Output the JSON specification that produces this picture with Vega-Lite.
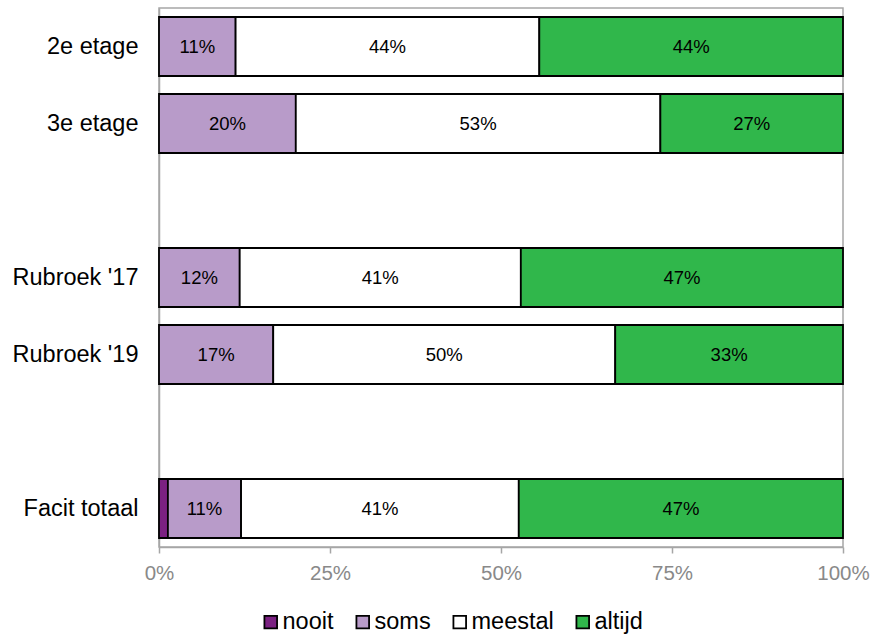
{
  "$schema": "https://vega.github.io/schema/vega-lite/v6.json",
  "autosize": "none",
  "width": 684,
  "height": 539,
  "padding": {"left": 159, "top": 8, "right": 28, "bottom": 88},
  "background": "white",
  "config": {
    "font": "Liberation Sans",
    "view": {"stroke": "#a6a6a6", "strokeWidth": 1.5}
  },
  "data": {
    "values": [
      {"groep": "2e etage", "antwoord": "soms", "rang": 2, "aandeel": 0.112},
      {"groep": "2e etage", "antwoord": "meestal", "rang": 3, "aandeel": 0.444},
      {"groep": "2e etage", "antwoord": "altijd", "rang": 4, "aandeel": 0.444},
      {"groep": "3e etage", "antwoord": "soms", "rang": 2, "aandeel": 0.2},
      {"groep": "3e etage", "antwoord": "meestal", "rang": 3, "aandeel": 0.533},
      {"groep": "3e etage", "antwoord": "altijd", "rang": 4, "aandeel": 0.267},
      {"groep": "Rubroek '17", "antwoord": "soms", "rang": 2, "aandeel": 0.118},
      {"groep": "Rubroek '17", "antwoord": "meestal", "rang": 3, "aandeel": 0.411},
      {"groep": "Rubroek '17", "antwoord": "altijd", "rang": 4, "aandeel": 0.471},
      {"groep": "Rubroek '19", "antwoord": "soms", "rang": 2, "aandeel": 0.167},
      {"groep": "Rubroek '19", "antwoord": "meestal", "rang": 3, "aandeel": 0.5},
      {"groep": "Rubroek '19", "antwoord": "altijd", "rang": 4, "aandeel": 0.333},
      {"groep": "Facit totaal", "antwoord": "nooit", "rang": 1, "aandeel": 0.013},
      {"groep": "Facit totaal", "antwoord": "soms", "rang": 2, "aandeel": 0.107},
      {"groep": "Facit totaal", "antwoord": "meestal", "rang": 3, "aandeel": 0.406},
      {"groep": "Facit totaal", "antwoord": "altijd", "rang": 4, "aandeel": 0.474}
    ]
  },
  "transform": [
    {"stack": "aandeel", "groupby": ["groep"], "sort": [{"field": "rang", "order": "ascending"}], "as": ["van", "tot"]},
    {"calculate": "(datum.van + datum.tot) / 2", "as": "midden"}
  ],
  "encoding": {
    "y": {
      "field": "groep",
      "type": "nominal",
      "title": null,
      "scale": {
        "domain": ["2e etage", "3e etage", "_leeg1", "Rubroek '17", "Rubroek '19", "_leeg2", "Facit totaal"],
        "paddingInner": 0.234,
        "paddingOuter": 0.117
      },
      "axis": {
        "labelExpr": "test(/^_/, datum.label) ? '' : datum.label",
        "labelFontSize": 23.5,
        "labelColor": "#000000",
        "labelPadding": 21,
        "ticks": false,
        "tickSize": 0,
        "domainColor": "#a6a6a6",
        "domainWidth": 1.5
      }
    }
  },
  "layer": [
    {
      "mark": {"type": "bar", "stroke": "#000000", "strokeWidth": 1.8},
      "encoding": {
        "x": {
          "field": "van",
          "type": "quantitative",
          "title": null,
          "scale": {"domain": [0, 1], "nice": false},
          "axis": {
            "values": [0, 0.25, 0.5, 0.75, 1],
            "format": ".0%",
            "grid": false,
            "labelFlush": false,
            "labelOverlap": false,
            "labelFontSize": 20.5,
            "labelColor": "#898989",
            "labelPadding": 10,
            "tickColor": "#a6a6a6",
            "tickSize": 6,
            "tickWidth": 1.5,
            "domainColor": "#a6a6a6",
            "domainWidth": 1.5
          }
        },
        "x2": {"field": "tot"},
        "color": {
          "field": "antwoord",
          "type": "nominal",
          "scale": {
            "domain": ["nooit", "soms", "meestal", "altijd"],
            "range": ["#7b2182", "#b89bc9", "#ffffff", "#30b74b"]
          },
          "legend": {
            "title": null,
            "orient": "none",
            "direction": "horizontal",
            "legendX": 100,
            "legendY": 602,
            "symbolType": "square",
            "symbolSize": 160,
            "symbolStrokeColor": "#000000",
            "symbolStrokeWidth": 1.8,
            "symbolOpacity": 1,
            "labelFontSize": 23.5,
            "labelColor": "#000000",
            "labelOffset": 0,
            "columnPadding": 17
          }
        }
      }
    },
    {
      "transform": [{"filter": "datum.antwoord != 'nooit'"}],
      "mark": {"type": "text", "fontSize": 18.5, "color": "#000000", "align": "center", "baseline": "middle"},
      "encoding": {
        "x": {"field": "midden", "type": "quantitative"},
        "text": {"field": "aandeel", "type": "quantitative", "format": ".0%"}
      }
    }
  ]
}
